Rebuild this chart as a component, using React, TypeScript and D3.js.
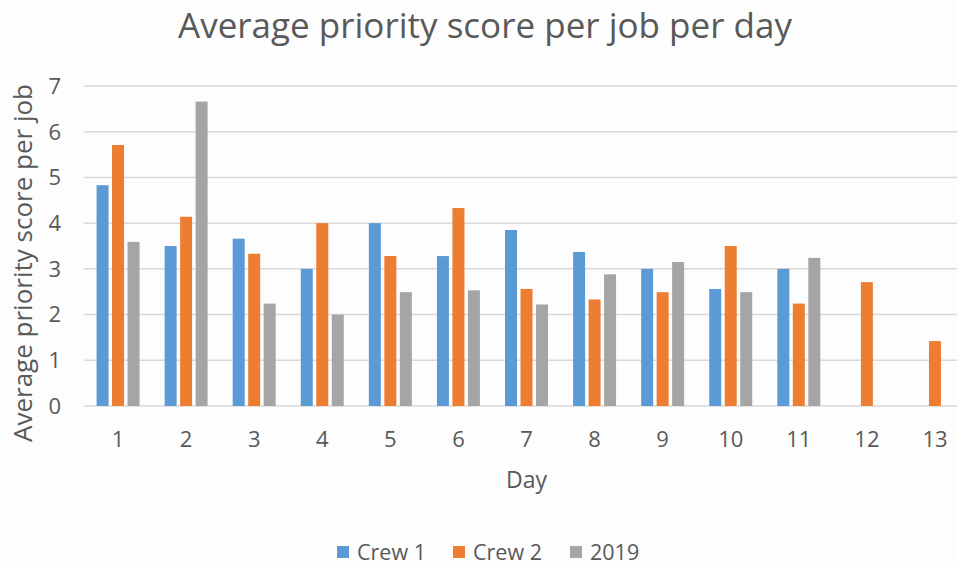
import { useEffect, useRef } from 'react'
import * as d3 from 'd3'

const days = ['1', '2', '3', '4', '5', '6', '7', '8', '9', '10', '11', '12', '13']
const seriesNames = ['Crew 1', 'Crew 2', '2019']
const crew1 = [4.83, 3.5, 3.66, 3.0, 4.0, 3.28, 3.85, 3.37, 3.0, 2.56, 3.0, null, null]
const crew2 = [5.71, 4.14, 3.33, 4.0, 3.28, 4.33, 2.56, 2.33, 2.49, 3.5, 2.24, 2.71, 1.42]
const year2019 = [3.59, 6.66, 2.24, 2.0, 2.49, 2.53, 2.22, 2.88, 3.15, 2.49, 3.24, null, null]
const yTicks = [0, 1, 2, 3, 4, 5, 6, 7]
const colors = ['#5b9bd5', '#ed7d31', '#a5a5a5']

const W = 957
const H = 567
const FONT = 'Open Sans, Noto Sans, sans-serif'
const TEXT = '#595959'

function App() {
  const ref = useRef<SVGSVGElement>(null)

  useEffect(() => {
    const svg = d3.select(ref.current)
    svg.selectAll('*').remove()

    const left = 84
    const right = 969
    const top = 86
    const bottom = 406

    const x = d3.scaleBand().domain(days).range([left, right])
    const x1 = d3
      .scaleBand()
      .domain(seriesNames)
      .range([0, x.bandwidth()])
      .paddingInner(0.226)
      .paddingOuter(0.81)
    const y = d3.scaleLinear().domain([0, 7]).range([bottom, top])

    svg.append('rect').attr('width', W).attr('height', H).attr('fill', '#fdfdfd')

    // grid
    svg
      .append('g')
      .selectAll('line')
      .data(yTicks)
      .join('line')
      .attr('x1', left)
      .attr('x2', right)
      .attr('y1', (d) => y(d))
      .attr('y2', (d) => y(d))
      .attr('stroke', '#d9d9d9')
      .attr('stroke-width', 1.5)

    svg
      .append('g')
      .selectAll('text')
      .data(yTicks)
      .join('text')
      .attr('x', 61)
      .attr('y', (d) => y(d))
      .attr('dy', '0.36em')
      .attr('text-anchor', 'end')
      .attr('font-size', 22)
      .attr('font-family', FONT)
      .attr('fill', TEXT)
      .text((d) => d)

    const table = [crew1, crew2, year2019]
    table.forEach((vals, si) => {
      svg
        .append('g')
        .selectAll('rect')
        .data(vals.map((v, i) => ({ day: days[i], v })).filter((d) => d.v != null))
        .join('rect')
        .attr('x', (d) => (x(d.day) as number) + (x1(seriesNames[si]) as number))
        .attr('width', x1.bandwidth())
        .attr('y', (d) => y(d.v as number))
        .attr('height', (d) => bottom - y(d.v as number))
        .attr('fill', colors[si])
    })

    svg
      .append('g')
      .selectAll('text')
      .data(days)
      .join('text')
      .attr('x', (d) => (x(d) as number) + x.bandwidth() / 2)
      .attr('y', 447)
      .attr('text-anchor', 'middle')
      .attr('font-size', 22)
      .attr('font-family', FONT)
      .attr('fill', TEXT)
      .text((d) => d)

    svg
      .append('text')
      .attr('x', (left + right) / 2)
      .attr('y', 488)
      .attr('text-anchor', 'middle')
      .attr('font-size', 23)
      .attr('font-family', FONT)
      .attr('fill', TEXT)
      .text('Day')

    svg
      .append('text')
      .attr('transform', `translate(32,${263}) rotate(-90)`)
      .attr('text-anchor', 'middle')
      .attr('font-size', 26)
      .attr('font-family', FONT)
      .attr('fill', TEXT)
      .text('Average priority score per job')

    svg
      .append('text')
      .attr('x', 485)
      .attr('y', 38)
      .attr('text-anchor', 'middle')
      .attr('font-size', 35)
      .attr('font-family', FONT)
      .attr('fill', TEXT)
      .text('Average priority score per job per day')

    // legend
    const legendX = [337, 453, 570]
    const lg = svg
      .append('g')
      .selectAll('g')
      .data(seriesNames)
      .join('g')
      .attr('transform', (_d, i) => `translate(${legendX[i]},552)`)
    lg.append('rect').attr('x', 0).attr('y', -6).attr('width', 12).attr('height', 12).attr('fill', (_d, i) => colors[i])
    lg.append('text')
      .attr('x', 20)
      .attr('dy', '0.36em')
      .attr('font-size', 21.5)
      .attr('font-family', FONT)
      .attr('fill', TEXT)
      .text((d) => d)
  }, [])

  return (
    <svg ref={ref} width={W} height={H} style={{ position: 'absolute', left: 0, top: 0, display: 'block' }} />
  )
}

export default App
